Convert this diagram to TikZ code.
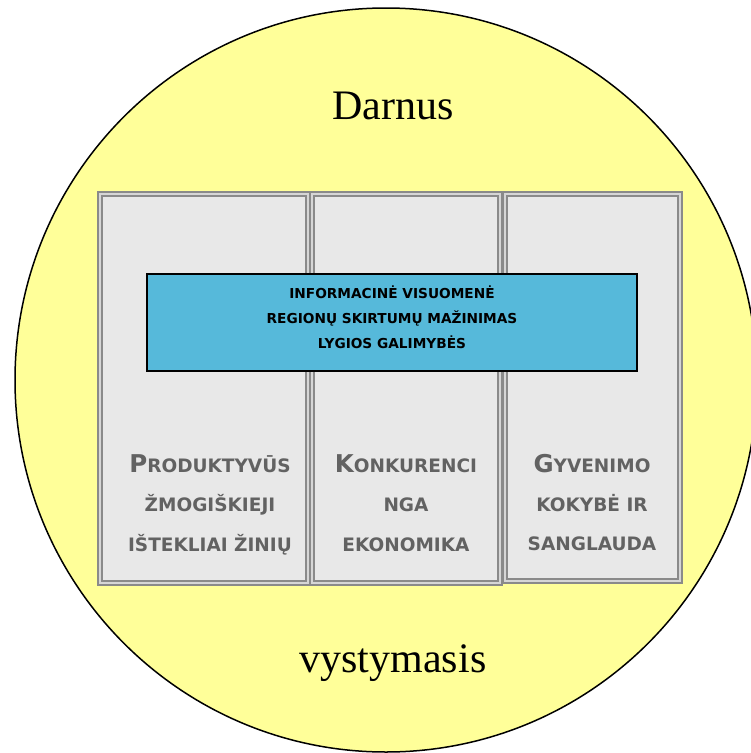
\documentclass[tikz,border=0pt]{standalone}
\usepackage{fontspec}
\setmainfont{Liberation Serif}
\newfontfamily\boxfont{DejaVu Sans}[BoldFont={DejaVu Sans Bold}]
\definecolor{circfill}{HTML}{FFFF99}
\definecolor{colfill}{HTML}{E8E8E8}
\definecolor{colline}{HTML}{8A8A8A}
\definecolor{colgap}{HTML}{D6D6D6}
\definecolor{bluefill}{HTML}{56B9DA}
\definecolor{coltext}{HTML}{626262}
\newcommand{\firstcap}[1]{{\fontsize{24.5}{26}\selectfont #1}}
\begin{document}
\begin{tikzpicture}[x=1pt,y=-1pt,
  column/.style={fill=colfill,draw=colline,double=colgap,line width=2pt,double distance=1.6pt},
  coltxt/.style={anchor=base,inner sep=0pt,text=coltext,font=\boxfont\bfseries\fontsize{18.5}{20}\selectfont},
  bluetxt/.style={anchor=base,inner sep=0pt,font=\boxfont\bfseries\fontsize{13.7}{16}\selectfont},
  bigtxt/.style={anchor=base,inner sep=0pt,font=\fontsize{42}{48}\selectfont}]
\useasboundingbox (0,0) rectangle (751,753);
\begin{scope}
\clip (0,0) rectangle (751,753);
\draw[fill=circfill,line width=1.5pt] (386,380) ellipse [x radius=371, y radius=372];
\end{scope}
\node[bigtxt] (darnus) at (393,119) {Darnus};
\node[bigtxt] (vyst) at (393,672) {vystymasis};
% columns
\path[column] (100,194) rectangle (308,583);
\path[column] (312,194) rectangle (500,583);
\path[column] (505,194) rectangle (680,581);
% column texts
\node[coltxt] (c1a) at (210,472) {\firstcap{P}RODUKTYVŪS};
\node[coltxt] (c1b) at (210,511.5) {ŽMOGIŠKIEJI};
\node[coltxt] (c1c) at (210,551) {IŠTEKLIAI ŽINIŲ};
\node[coltxt] (c2a) at (406,472) {\firstcap{K}ONKURENCI};
\node[coltxt] (c2b) at (406,511.5) {NGA};
\node[coltxt] (c2c) at (406,551) {EKONOMIKA};
\node[coltxt] (c3a) at (592,472) {\firstcap{G}YVENIMO};
\node[coltxt] (c3b) at (592,511) {KOKYBĖ IR};
\node[coltxt] (c3c) at (592,550) {SANGLAUDA};
% blue box
\draw[fill=bluefill,line width=1.5pt] (147,274) rectangle (637,371);
\node[bluetxt] (b1) at (392,298) {INFORMACINĖ VISUOMENĖ};
\node[bluetxt] (b2) at (392,323) {REGIONŲ SKIRTUMŲ MAŽINIMAS};
\node[bluetxt] (b3) at (392,348) {LYGIOS GALIMYBĖS};
\end{tikzpicture}
\end{document}
